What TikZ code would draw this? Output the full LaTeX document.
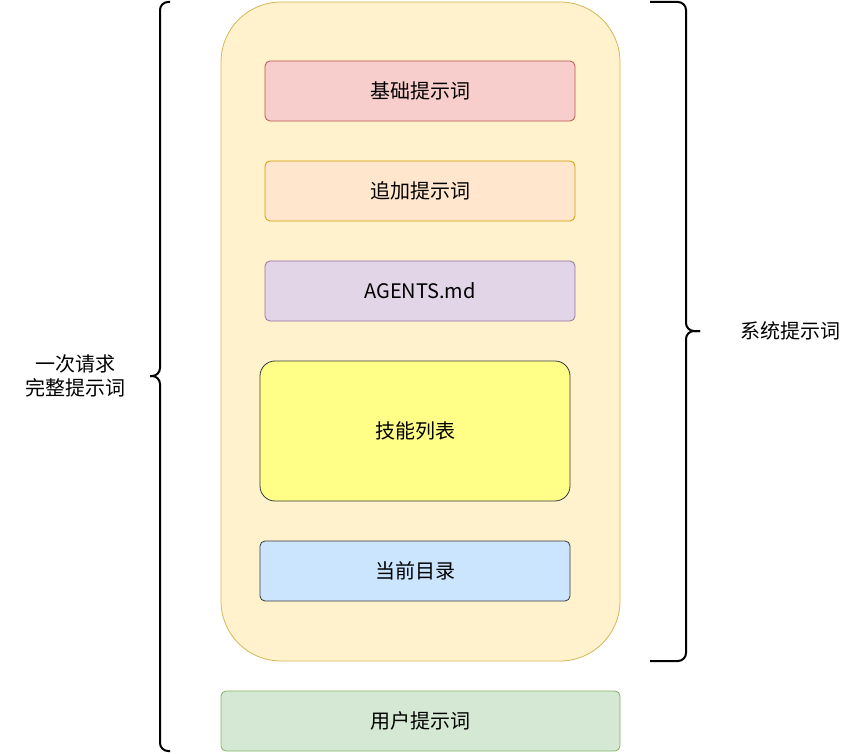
\documentclass[tikz,border=0pt]{standalone}
\usepackage{fontspec}
\setmainfont{Noto Sans CJK SC}
\begin{document}
\begin{tikzpicture}[x=1pt,y=-1pt,
  box/.style={draw,line width=0.8pt,rounded corners=5pt,font=\fontsize{20}{24}\selectfont},
  lbl/.style={font=\fontsize{20}{24}\selectfont,align=center},
  br/.style={line width=2pt,rounded corners=8pt}]
\definecolor{ybg}{HTML}{FFF2CC}\definecolor{ybd}{HTML}{D6B656}
\definecolor{rbg}{HTML}{F8CECC}\definecolor{rbd}{HTML}{B85450}
\definecolor{obg}{HTML}{FFE6CC}\definecolor{obd}{HTML}{D79B00}
\definecolor{pbg}{HTML}{E1D5E7}\definecolor{pbd}{HTML}{9673A6}
\definecolor{kbg}{HTML}{FFFF88}\definecolor{kbd}{HTML}{36393D}
\definecolor{bbg}{HTML}{CCE5FF}
\definecolor{gbg}{HTML}{D5E8D4}\definecolor{gbd}{HTML}{82B366}
\useasboundingbox (0,0) rectangle (860,754);
\draw[fill=ybg,draw=ybd,line width=0.8pt,rounded corners=60pt] (221,2) rectangle (620,661);
\draw[box,fill=rbg,draw=rbd] (265,61) rectangle node (a) {基础提示词} (575,121);
\draw[box,fill=obg,draw=obd] (265,161) rectangle node (b) {追加提示词} (575,221);
\draw[box,fill=pbg,draw=pbd] (265,261) rectangle node (c) {AGENTS.md} (575,321);
\draw[box,fill=kbg,draw=kbd,rounded corners=15pt] (260,361) rectangle node (d) {技能列表} (570,501);
\draw[box,fill=bbg,draw=kbd] (260,541) rectangle node (e) {当前目录} (570,601);
\draw[box,fill=gbg,draw=gbd] (221,691) rectangle node (f) {用户提示词} (620,751);
\draw[br] (650,2) -- (686,2) -- (686,331) -- (700,331);
\draw[br] (700,331) -- (686,331) -- (686,661) -- (650,661);
\draw[br] (170,2) -- (160,2) -- (160,376) -- (150,376);
\draw[br] (150,376) -- (160,376) -- (160,751) -- (170,751);
\node[lbl] (s) at (790,331) {系统提示词};
\node[lbl] (w) at (75,376) {一次请求\\完整提示词};
\end{tikzpicture}
\end{document}
